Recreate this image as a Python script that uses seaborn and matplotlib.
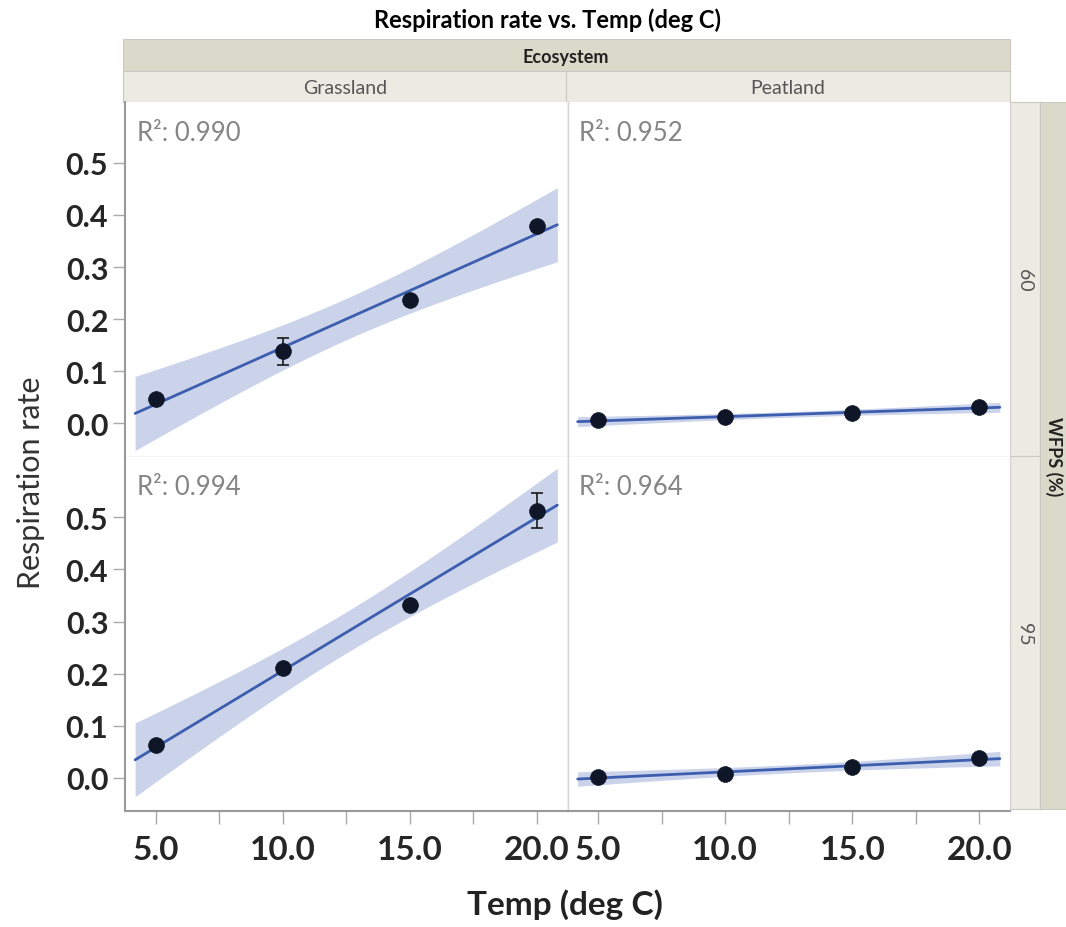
import numpy as np
import pandas as pd
import seaborn as sns
import matplotlib.pyplot as plt
from matplotlib.patches import Rectangle
from matplotlib.ticker import FixedLocator, MultipleLocator, FormatStrFormatter

# Data (means and error bars)
temps = [5.0, 10.0, 15.0, 20.0]
ecosystems = ["Grassland", "Peatland"]
wfps_levels = ["60", "95"]
y_ticks = [0.0, 0.1, 0.2, 0.3, 0.4, 0.5]

grass_60 = [0.047, 0.138, 0.237, 0.378]
grass_60_err = [0.005, 0.026, 0.006, 0.008]
grass_95 = [0.062, 0.210, 0.331, 0.513]
grass_95_err = [0.005, 0.006, 0.006, 0.034]
peat_60 = [0.006, 0.011, 0.019, 0.031]
peat_60_err = [0.002, 0.002, 0.002, 0.003]
peat_95 = [0.002, 0.008, 0.021, 0.037]
peat_95_err = [0.002, 0.002, 0.003, 0.004]

r2_labels = {("Grassland", "60"): "0.990", ("Peatland", "60"): "0.952",
             ("Grassland", "95"): "0.994", ("Peatland", "95"): "0.964"}

series = {("Grassland", "60"): (grass_60, grass_60_err),
          ("Grassland", "95"): (grass_95, grass_95_err),
          ("Peatland", "60"): (peat_60, peat_60_err),
          ("Peatland", "95"): (peat_95, peat_95_err)}

rows = []
for (eco, wf), (vals, errs) in series.items():
    for t, v, e in zip(temps, vals, errs):
        rows.append({"Temp": t, "Rate": v, "Err": e, "Ecosystem": eco, "WFPS": wf})
df = pd.DataFrame(rows)

sns.set_theme(style="white")
plt.rcParams["font.family"] = ["Lato", "DejaVu Sans"]

W, H = 1066, 928
LINE_BLUE = "#3d5eae"
BAND_BLUE = "#cad3ea"
DOT = "#0e1628"


def draw_panel(data, **kws):
    ax = plt.gca()
    x = data["Temp"].to_numpy()
    y = data["Rate"].to_numpy()
    # least squares fit with 95% confidence band for the mean
    slope, icpt = np.polyfit(x, y, 1)
    n = len(x)
    resid = y - (icpt + slope * x)
    s = np.sqrt(np.sum(resid ** 2) / (n - 2))
    sxx = np.sum((x - x.mean()) ** 2)
    grid = np.linspace(4.2, 20.8, 60)
    fit = icpt + slope * grid
    half = 4.303 * s * np.sqrt(1 / n + (grid - x.mean()) ** 2 / sxx)
    ax.fill_between(grid, fit - half, fit + half, color=BAND_BLUE, lw=0, zorder=1)
    ax.plot(grid, fit, color=LINE_BLUE, lw=2, zorder=2)
    ax.errorbar(x, y, yerr=data["Err"], fmt="none", ecolor="#1a1a1a",
                elinewidth=1.2, capsize=4, capthick=1.2, zorder=3)
    sns.scatterplot(x=x, y=y, ax=ax, color=DOT, s=130, edgecolor=DOT,
                    linewidth=0.5, zorder=4)
    key = (data["Ecosystem"].iloc[0], data["WFPS"].iloc[0])
    ax.text(0.027, 0.95, "R\u00b2: " + r2_labels[key], transform=ax.transAxes,
            ha="left", va="top", fontsize=18.5, color="#858585")


g = sns.FacetGrid(df, row="WFPS", col="Ecosystem", row_order=wfps_levels,
                  col_order=ecosystems, sharex=True, sharey=True, despine=False)
g.map_dataframe(draw_panel)
g.set_titles(template="")
g.set_axis_labels("", "")

fig = g.figure
fig.set_size_inches(W / 100, H / 100)
fig.subplots_adjust(left=125 / W, right=1010 / W, top=1 - 103 / H,
                    bottom=1 - 812 / H, wspace=0, hspace=0)

for i, row_axes in enumerate(g.axes):
    for j, ax in enumerate(row_axes):
        ax.set_xlim(3.8, 21.2)
        ax.set_ylim(-0.064, 0.617)
        ax.xaxis.set_major_locator(MultipleLocator(5))
        ax.xaxis.set_minor_locator(MultipleLocator(2.5))
        ax.xaxis.set_major_formatter(FormatStrFormatter("%.1f"))
        ax.yaxis.set_major_locator(FixedLocator(y_ticks))
        ax.yaxis.set_major_formatter(FormatStrFormatter("%.1f"))
        for side, sp in ax.spines.items():
            sp.set_color("#d6d6d6")
            sp.set_linewidth(1)
        ax.spines["top"].set_visible(False)
        if j == 0:
            ax.spines["left"].set_color("#9a9a9a")
            ax.spines["left"].set_linewidth(1.5)
            ax.tick_params(axis="y", direction="out", length=9, width=1,
                           color="#aaaaaa", labelsize=22, pad=3,
                           left=True, labelleft=True)
            for lab in ax.get_yticklabels():
                lab.set_fontweight("bold")
        else:
            ax.tick_params(axis="y", left=False, labelleft=False)
        if i == 1:
            ax.spines["bottom"].set_color("#9a9a9a")
            ax.spines["bottom"].set_linewidth(1.5)
            ax.tick_params(axis="x", which="both", direction="out", length=9,
                           width=1, color="#aaaaaa", bottom=True)
            ax.tick_params(axis="x", which="major", labelsize=24, pad=8,
                           labelbottom=True)
            for lab in ax.get_xticklabels():
                lab.set_fontweight("bold")
        else:
            ax.tick_params(axis="x", which="both", bottom=False, labelbottom=False)
        ax.set_xlabel("")
        ax.set_ylabel("")


def box(x0, y0, x1, y1, color):
    fig.add_artist(Rectangle((x0 / W, 1 - y1 / H), (x1 - x0) / W, (y1 - y0) / H,
                             transform=fig.transFigure, facecolor=color,
                             edgecolor="#c9c9c2", lw=0.8, zorder=0))


def label(x, y, text, **kw):
    fig.text(x / W, 1 - y / H, text, ha="center", va="center", **kw)


# strips along the top
box(123, 40, 1010, 72, "#dbd9c9")
label(566, 57, "Ecosystem", fontsize=13, fontweight="bold", color="#222222")
box(123, 72, 566, 103, "#ebebe4")
box(566, 72, 1010, 103, "#ebebe4")
label(345, 88, "Grassland", fontsize=14, color="#555555")
label(788, 88, "Peatland", fontsize=14, color="#555555")

# strips along the right side
box(1010, 103, 1040, 457, "#ebebe4")
box(1010, 457, 1040, 810, "#ebebe4")
box(1040, 103, 1070, 810, "#dbd9c9")
label(1025, 280, "60", fontsize=14, rotation=270, color="#555555")
label(1025, 634, "95", fontsize=14, rotation=270, color="#555555")
label(1054, 457, "WFPS (%)", fontsize=13, rotation=270, fontweight="bold",
      color="#222222")

label(548, 20, "Respiration rate vs. Temp (deg C)", fontsize=17,
      fontweight="bold", color="black")
label(565, 905, "Temp (deg C)", fontsize=24, fontweight="bold", color="#222222")
label(31, 483, "Respiration rate", fontsize=22, rotation=90, color="#333333")

fig.savefig("out.png", dpi=100)
